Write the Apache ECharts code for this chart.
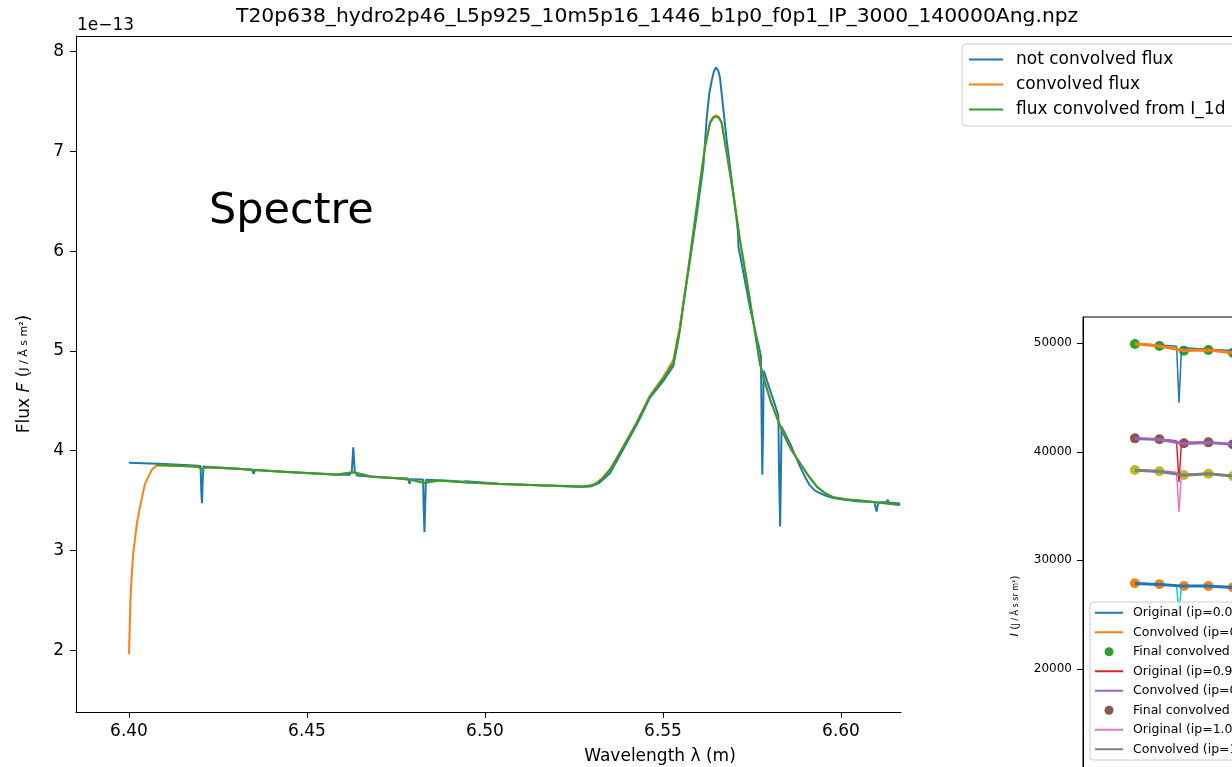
<!DOCTYPE html>
<html><head><meta charset="utf-8">
<script src="https://cdn.jsdelivr.net/npm/echarts@6/dist/echarts.min.js"></script>
<style>html,body{margin:0;padding:0;background:#fff}#c{width:1232px;height:767px}</style>
</head><body><div id="c"></div>
<script>
// ---------- main panel data (flux in units of 1e-13) ----------
const blueLambda = [6.4000,6.4100,6.4195,6.4201,6.4203,6.4205,6.4207,6.4209,6.4300,6.4346,6.4350,6.4354,6.4450,6.4578,6.4581,6.4584,6.4620,6.4626,6.4630,6.4634,6.4640,6.4700,6.4784,6.4788,6.4792,6.4826,6.4828,6.4830,6.4832,6.4834,6.4900,6.4938,6.4942,6.4946,6.5040,6.5150,6.5275,6.5300,6.5320,6.5351,6.5389,6.5426,6.5440,6.5463,6.5501,6.5529,6.5543,6.5557,6.5576,6.5595,6.5613,6.5623,6.5630,6.5637,6.5643,6.5649,6.5655,6.5660,6.5669,6.5679,6.5693,6.5707,6.5711,6.5712,6.5726,6.5744,6.5763,6.5772,6.5775,6.5777,6.5779,6.5781,6.5783,6.5787,6.5819,6.5824,6.5826,6.5829,6.5831,6.5833,6.5857,6.5885,6.5900,6.5913,6.5927,6.5941,6.5960,6.5978,6.6015,6.6053,6.6094,6.6097,6.6100,6.6103,6.6106,6.6128,6.6131,6.6134,6.6166];
const blueFlux = [3.880,3.866,3.848,3.846,3.60,3.475,3.70,3.842,3.822,3.808,3.768,3.806,3.785,3.765,3.745,3.760,3.758,3.80,4.035,3.80,3.752,3.735,3.722,3.668,3.715,3.712,3.40,3.182,3.45,3.708,3.700,3.690,3.675,3.694,3.670,3.653,3.636,3.645,3.675,3.775,4.02,4.26,4.36,4.53,4.70,4.85,5.11,5.48,5.91,6.37,6.84,7.34,7.58,7.71,7.80,7.84,7.81,7.74,7.44,7.11,6.71,6.31,6.17,6.04,5.78,5.44,5.14,5.00,4.95,4.30,3.76,4.20,4.80,4.79,4.41,4.35,3.80,3.24,3.70,4.24,4.07,3.84,3.73,3.65,3.60,3.575,3.545,3.525,3.505,3.49,3.485,3.43,3.39,3.45,3.482,3.485,3.51,3.482,3.47];

const orangeLambda = [6.4000,6.4004,6.4008,6.4012,6.4022,6.4031,6.4045,6.4064,6.4078,6.4150,6.4195,6.4205,6.4215,6.4300,6.4400,6.4500,6.4580,6.4630,6.4680,6.4750,6.4790,6.4829,6.4870,6.4950,6.5040,6.5150,6.5275,6.5300,6.5314,6.5330,6.5351,6.5370,6.5389,6.5426,6.5463,6.5501,6.5529,6.5542,6.5548,6.5567,6.5585,6.5604,6.5618,6.5632,6.5641,6.5649,6.5657,6.5665,6.5679,6.5697,6.5716,6.5735,6.5754,6.5772,6.5786,6.5801,6.5820,6.5838,6.5860,6.5885,6.5908,6.5932,6.5955,6.5978,6.6015,6.6053,6.6110,6.6166];
const orangeFlux = [1.96,2.50,2.78,2.97,3.27,3.44,3.67,3.81,3.855,3.846,3.838,3.816,3.833,3.818,3.797,3.777,3.760,3.784,3.742,3.724,3.710,3.678,3.702,3.682,3.667,3.654,3.641,3.654,3.680,3.73,3.815,3.93,4.05,4.285,4.55,4.74,4.91,5.15,5.25,5.72,6.19,6.69,7.05,7.29,7.345,7.36,7.345,7.29,6.99,6.59,6.12,5.72,5.29,4.88,4.695,4.515,4.335,4.175,4.013,3.876,3.752,3.642,3.577,3.534,3.513,3.50,3.478,3.456];

const greenLambda = [6.4078,6.4150,6.4195,6.4205,6.4215,6.4300,6.4400,6.4500,6.4580,6.4630,6.4680,6.4750,6.4790,6.4829,6.4870,6.4950,6.5040,6.5150,6.5275,6.5300,6.5314,6.5330,6.5351,6.5370,6.5389,6.5426,6.5463,6.5501,6.5529,6.5542,6.5548,6.5567,6.5585,6.5604,6.5618,6.5632,6.5641,6.5649,6.5657,6.5665,6.5679,6.5697,6.5716,6.5735,6.5754,6.5772,6.5786,6.5801,6.5820,6.5838,6.5860,6.5885,6.5908,6.5932,6.5955,6.5978,6.6015,6.6053,6.6110,6.6166];
const greenFlux = [3.857,3.846,3.838,3.815,3.833,3.818,3.797,3.777,3.760,3.785,3.742,3.724,3.710,3.677,3.702,3.682,3.667,3.654,3.641,3.652,3.674,3.72,3.807,3.92,4.04,4.275,4.54,4.724,4.875,5.12,5.22,5.71,6.18,6.68,7.04,7.28,7.335,7.35,7.335,7.28,6.98,6.58,6.11,5.71,5.28,4.875,4.69,4.51,4.33,4.17,4.01,3.874,3.75,3.64,3.575,3.533,3.512,3.50,3.478,3.456];

const mainXTicks = [6.40,6.45,6.50,6.55,6.60];
const mainYTicks = [2,3,4,5,6,7,8];

// ---------- inset panel data ----------
const insetLineLambda = [6.4186,6.4196,6.4202,6.4203,6.4204,6.4205,6.4206,6.4216,6.4226];
const insetDotLambda = [6.4186,6.4196,6.4206,6.4216,6.4226];
const origA = [49990,49840,49760,49700,44530,49650,49600,49450,49340];
const convA = [49950,49760,49330,49380,49130];
const finalA = [49940,49750,49320,49380,49130];
const origB = [41260,41160,41050,41000,37200,40950,40900,40880,40720];
const convB = [41220,41130,40770,40860,40690];
const finalB = [41240,41150,40780,40870,40690];
const origC = [38370,38250,38150,38100,34450,38000,37950,37990,37800];
const convC = [38310,38190,37850,37970,37760];
const finalC = [38320,38200,37860,37980,37770];
const origD = [27900,27800,27720,27700,25100,27660,27640,27630,27520];
const convD = [27870,27780,27620,27620,27500];
const finalD = [27880,27790,27630,27630,27510];
const insetYTicks = [0,10000,20000,30000,40000,50000];
const insetNames = ['Original (ip=0.0)','Convolved (ip=0.0)','Final convolved (ip=0.0)',
  'Original (ip=0.9)','Convolved (ip=0.9)','Final convolved (ip=0.9)',
  'Original (ip=1.0)','Convolved (ip=1.0)','Final convolved (ip=1.0)',
  'Original (ip=1.1)','Convolved (ip=1.1)','Final convolved (ip=1.1)'];
const mainNames = ['not convolved flux','convolved flux','flux convolved from I_1d'];

const C = ['#1f77b4','#ff7f0e','#2ca02c','#d62728','#9467bd','#8c564b','#e377c2','#7f7f7f','#bcbd22','#17becf'];
const FF = 'DejaVu Sans';
const zip = (a,b) => a.map((x,i) => [x,b[i]]);

function mainLine(name, lam, val, color){
  return {type:'line', name, xAxisIndex:0, yAxisIndex:0, data:zip(lam,val), symbol:'none', showSymbol:false,
    lineStyle:{color, width:2}, itemStyle:{color}, clip:true, animation:false};
}
function insetLine(name, lam, val, color, w){
  return {type:'line', name, xAxisIndex:1, yAxisIndex:1, data:zip(lam,val), symbol:'none', showSymbol:false,
    lineStyle:{color, width:w}, itemStyle:{color}, clip:true, animation:false};
}
function insetDots(name, lam, val, color){
  return {type:'scatter', name, xAxisIndex:1, yAxisIndex:1, data:zip(lam,val), symbol:'circle', symbolSize:10,
    itemStyle:{color, opacity:1}, clip:true, animation:false};
}

const chart = echarts.init(document.getElementById('c'), null, {renderer:'canvas'});
chart.setOption({
  animation:false,
  backgroundColor:'#fff',
  textStyle:{fontFamily:FF},
  title:{text:'T20p638_hydro2p46_L5p925_10m5p16_1446_b1p0_f0p1_IP_3000_140000Ang.npz', left:236, top:7, padding:0,
    textStyle:{fontFamily:FF, fontSize:20.3, fontWeight:'normal', color:'#000'}},
  grid:[
    {left:76, top:36, width:825, height:676, containLabel:false, outerBoundsMode:'none'},
    {left:1083, top:317, width:400, height:578, show:true, backgroundColor:'#fff', borderColor:'#000', borderWidth:1, outerBoundsMode:'none'}
  ],
  xAxis:[
    {type:'value', gridIndex:0, min:6.385112, max:6.616854, splitLine:{show:false},
     axisLine:{show:true, onZero:false, lineStyle:{color:'#000', width:1}},
     axisTick:{show:true, inside:false, length:6, customValues:mainXTicks, lineStyle:{color:'#000'}},
     axisLabel:{customValues:mainXTicks, formatter:v=>Number(v).toFixed(2), margin:11, color:'#000', fontSize:17, fontFamily:FF}},
    {type:'value', gridIndex:1, min:6.41648, max:6.43281, show:false}
  ],
  yAxis:[
    {type:'value', gridIndex:0, min:1.3818, max:8.1553, splitLine:{show:false},
     axisLine:{show:true, onZero:false, lineStyle:{color:'#000', width:1}},
     axisTick:{show:true, inside:false, length:6, customValues:mainYTicks, lineStyle:{color:'#000'}},
     axisLabel:{customValues:mainYTicks, formatter:v=>String(Math.round(v)), margin:12, color:'#000', fontSize:17, fontFamily:FF},
     name:'{a|Flux }{b|F}{a| (}{c|J / Å s m²}{a|)}', nameLocation:'middle', nameGap:43, nameRotate:90,
     nameTextStyle:{rich:{a:{fontSize:17, fontFamily:FF, color:'#000'}, b:{fontSize:17, fontFamily:FF, fontStyle:'italic', color:'#000'}, c:{fontSize:11, fontFamily:FF, color:'#000'}}}},
    {type:'value', gridIndex:1, min:-848, max:52424, splitLine:{show:false},
     axisLine:{show:true, onZero:false, lineStyle:{color:'#000', width:1}},
     axisTick:{show:true, inside:false, length:6, customValues:insetYTicks, lineStyle:{color:'#000'}},
     axisLabel:{customValues:insetYTicks, formatter:v=>String(Math.round(v)), margin:11, color:'#000', fontSize:12, fontFamily:FF},
     name:'{b|I}{a| (}{c|J / Å s sr m²}{a|)}', nameLocation:'middle', nameGap:62, nameRotate:90,
     nameTextStyle:{rich:{a:{fontSize:11, fontFamily:FF, color:'#000'}, b:{fontSize:11, fontFamily:FF, fontStyle:'italic', color:'#000'}, c:{fontSize:8, fontFamily:FF, color:'#000'}}}}
  ],
  legend:[
    {data:mainNames.map(n => ({name:n, itemStyle:{opacity:0}})), left:962, top:44, orient:'vertical',
     itemWidth:34, itemHeight:14, itemGap:0, padding:[3,12,4,6], selectedMode:false,
     backgroundColor:'rgba(255,255,255,0.8)', borderColor:'#cccccc', borderWidth:1, borderRadius:4,
     textStyle:{fontFamily:FF, fontSize:17, lineHeight:25, color:'#000', padding:[0,0,0,8]}},
    {data:insetNames.map((n,i) => (i % 3 === 2 ? {name:n} : {name:n, itemStyle:{opacity:0}})), left:1090, top:602, orient:'vertical',
     itemWidth:28, itemHeight:9, itemGap:0, padding:[1,10,1,4], selectedMode:false,
     backgroundColor:'rgba(255,255,255,0.8)', borderColor:'#cccccc', borderWidth:1, borderRadius:3,
     textStyle:{fontFamily:FF, fontSize:12.5, lineHeight:19.5, color:'#000', padding:[0,0,0,5]}}
  ],
  graphic:[
    {type:'line', shape:{x1:76, y1:36.5, x2:1232, y2:36.5}, style:{stroke:'#000', lineWidth:1}, z:10},
    {type:'text', left:77, top:17, style:{text:'1e\u221213', font:'17px "DejaVu Sans"', fill:'#000'}},
    {type:'text', x:209, y:212, style:{text:'Spectre', font:'43px "DejaVu Sans"', fill:'#000', textVerticalAlign:'middle'}},
    {type:'text', x:660, y:757, style:{text:'Wavelength \u03bb (m)', font:'17px "DejaVu Sans"', fill:'#000', textAlign:'center', textVerticalAlign:'middle'}}
  ],
  series:[
    mainLine(mainNames[0], blueLambda, blueFlux, C[0]),
    mainLine(mainNames[1], orangeLambda, orangeFlux, C[1]),
    mainLine(mainNames[2], greenLambda, greenFlux, C[2]),
    insetLine(insetNames[0], insetLineLambda, origA, C[0], 1.5),
    insetLine(insetNames[1], insetDotLambda, convA, C[1], 3),
    insetDots(insetNames[2], insetDotLambda, finalA, C[2]),
    insetLine(insetNames[3], insetLineLambda, origB, C[3], 1.5),
    insetLine(insetNames[4], insetDotLambda, convB, C[4], 3),
    insetDots(insetNames[5], insetDotLambda, finalB, C[5]),
    insetLine(insetNames[6], insetLineLambda, origC, C[6], 1.5),
    insetLine(insetNames[7], insetDotLambda, convC, C[7], 3),
    insetDots(insetNames[8], insetDotLambda, finalC, C[8]),
    insetLine(insetNames[9], insetLineLambda, origD, C[9], 1.5),
    insetLine(insetNames[10], insetDotLambda, convD, C[0], 3),
    insetDots(insetNames[11], insetDotLambda, finalD, C[1])
  ]
});
</script></body></html>
